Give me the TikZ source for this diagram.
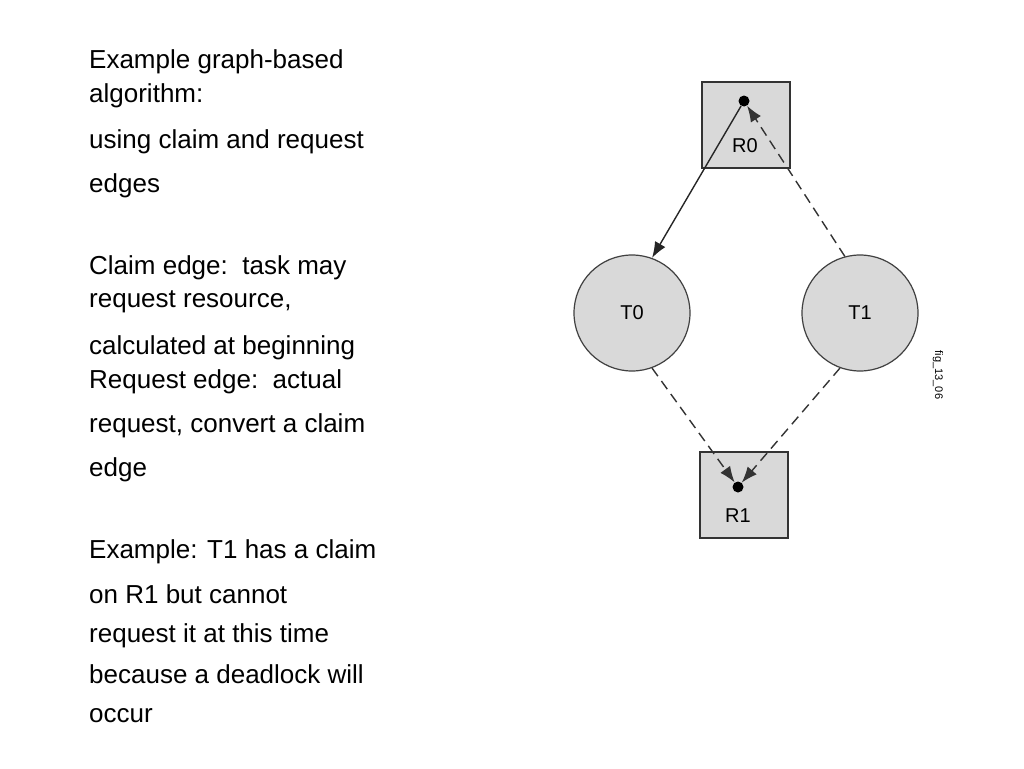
\documentclass[tikz,border=0pt]{standalone}
\usepackage{fontspec}
\setmainfont{Liberation Sans}
\usetikzlibrary{arrows.meta}
\begin{document}
\begin{tikzpicture}[x=1pt,y=-1pt,
  txt/.style={anchor=west,font=\fontsize{26}{30}\selectfont,inner sep=0pt},
  res/.style={draw=black!80,line width=1.6pt,fill=black!15,minimum width=88pt,minimum height=86pt,inner sep=0pt},
  task/.style={circle,draw=black!75,line width=1.2pt,fill=black!15,minimum size=116pt,inner sep=0pt,font=\fontsize{20}{24}\selectfont},
  dot/.style={circle,fill=black,minimum size=11pt,inner sep=0pt},
  tip/.style={-{Latex[length=16pt,width=12pt]}},
  dsh/.style={line width=1.4pt,dash pattern=on 10pt off 6pt,draw=black!80}]
\useasboundingbox (0,0) rectangle (1024,768);
\foreach \t/\y [count=\i] in {{Example graph-based}/62,{algorithm:}/96,{using claim and request}/142,{edges}/186,{Claim edge:\ \ task may}/268,{request resource,}/302,{calculated at beginning}/348,{Request edge:\ \ actual}/382,{request, convert a claim}/426,{edge}/470,{Example: T1 has a claim}/552,{on R1 but cannot}/594,{request it at this time}/636,{because a deadlock will}/674,{occur}/716}
  \node[txt] (l\i) at (89,\y) {\t};
\node[res] (R0) at (746,125) {};
\node[font=\fontsize{20}{24}\selectfont] (R0l) at (745,146) {R0};
\node[dot] (d0) at (744,101) {};
\node[res] (R1) at (744,495) {};
\node[font=\fontsize{20}{24}\selectfont] (R1l) at (738,516) {R1};
\node[dot] (d1) at (738,487) {};
\node[task] (T0) at (632,313) {T0};
\node[task] (T1) at (860,313) {T1};
\node[rotate=-90,font=\fontsize{11}{13}\selectfont] (fig) at (938,375) {fig\_13\_06};
\draw[tip,line width=1.4pt,draw=black!85] (d0) -- (T0.70);
\draw[dsh,tip] (T1.105) -- (d0);
\draw[dsh,tip] (T0.-70) -- (d1);
\draw[dsh,tip] (T1.-110) -- (d1);
\end{tikzpicture}
\end{document}
